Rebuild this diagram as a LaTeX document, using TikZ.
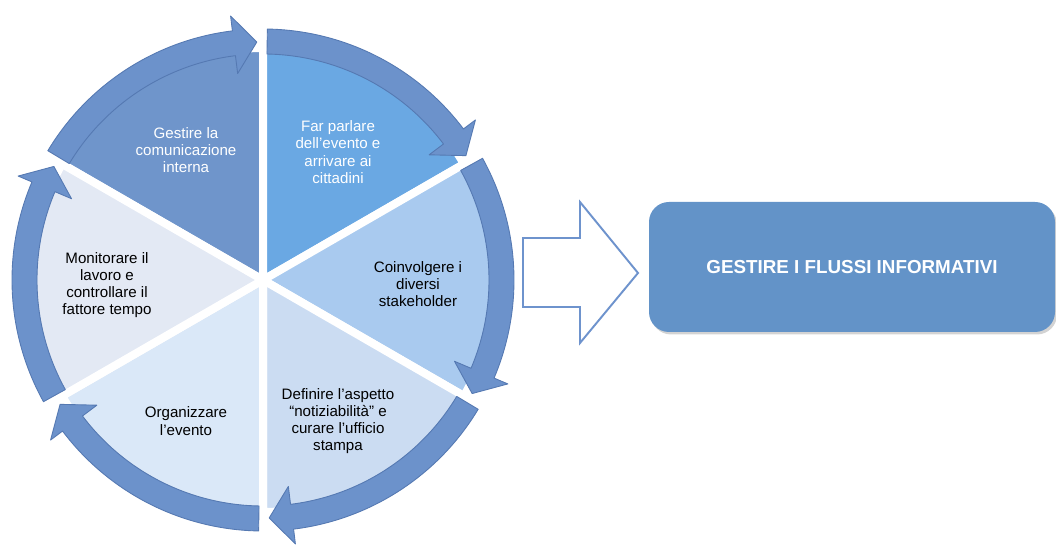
\documentclass[tikz,border=0pt]{standalone}
\usepackage{fontspec}
\setmainfont{Liberation Sans}
\usetikzlibrary{calc,shadows}
\definecolor{secgest}{HTML}{6F95CB}
\definecolor{secfar}{HTML}{6AA8E3}
\definecolor{seccoin}{HTML}{A9CAEF}
\definecolor{secdef}{HTML}{CBDCF2}
\definecolor{secorg}{HTML}{DAE8F8}
\definecolor{secmon}{HTML}{E3E9F4}
\definecolor{ringblue}{HTML}{6C92CB}
\definecolor{ringedge}{HTML}{5579B2}
\definecolor{boxblue}{HTML}{6393C8}
\definecolor{arrowline}{HTML}{6E93CD}
\begin{document}
\begin{tikzpicture}[
  seglabel/.style={align=center, font=\fontsize{8.6}{9.8}\selectfont},
  ring/.style={fill=ringblue, draw=ringedge, line width=.5pt, line join=round},
  bigarrow/.style={draw=arrowline, fill=white, line width=1.1pt, line join=miter},
  flussibox/.style={fill=boxblue, rounded corners=.4cm, minimum width=8.12cm,
    minimum height=2.6cm, text=white, inner sep=0pt,
    font=\fontsize{10.7}{12}\selectfont\bfseries,
    drop shadow={opacity=.35, shadow xshift=.04cm, shadow yshift=-.05cm}},
  ]
\useasboundingbox (0,0) rectangle (21.12,10.94);
\coordinate (C) at (5.26,5.34);
\foreach \a/\col in {90/secgest, 30/secfar, -30/seccoin, -90/secdef, -150/secorg, 150/secmon}
  \filldraw[fill=\col, draw=white, line width=.16cm, line join=round]
    (C) -- ($(C)+(\a:4.64)$) arc[start angle=\a, end angle=\a+60, radius=4.64] -- cycle;
\foreach \s/\t in {209/151.5, 149/91.5, 89/31.5, 29/-28.5, -31/-88.5, -91/-148.5}{
  \pgfmathsetmacro{\hb}{\t+5.5}
  \filldraw[ring] ($(C)+(\s:5.02)$) arc[start angle=\s, end angle=\hb, radius=5.02]
    -- ($(C)+(\hb:5.32)$) -- ($(C)+(\t:4.76)$) -- ($(C)+(\hb:4.16)$)
    -- ($(C)+(\hb:4.52)$) arc[start angle=\hb, end angle=\s, radius=4.52] -- cycle;
}
\node[seglabel, text=white] (gestire) at (3.72,7.94) {Gestire la\\comunicazione\\interna};
\node[seglabel, text=white] (parlare) at (6.76,7.90) {Far parlare\\dell’evento e\\arrivare ai\\cittadini};
\node[seglabel] (coinvolgere) at (8.36,5.26) {Coinvolgere i\\diversi\\stakeholder};
\node[seglabel] (definire) at (6.76,2.52) {Definire l’aspetto\\“notiziabilità” e\\curare l’ufficio\\stampa};
\node[seglabel] (organizzare) at (3.72,2.52) {Organizzare\\l’evento};
\node[seglabel] (monitorare) at (2.14,5.24) {Monitorare il\\lavoro e\\controllare il\\fattore tempo};
\draw[bigarrow] (10.46,6.18) -- (11.60,6.18) -- (11.60,6.90) -- (12.76,5.48)
  -- (11.60,4.08) -- (11.60,4.80) -- (10.46,4.80) -- cycle;
\node[flussibox] (flussi) at (17.04,5.60) {GESTIRE I FLUSSI INFORMATIVI};
\end{tikzpicture}
\end{document}
